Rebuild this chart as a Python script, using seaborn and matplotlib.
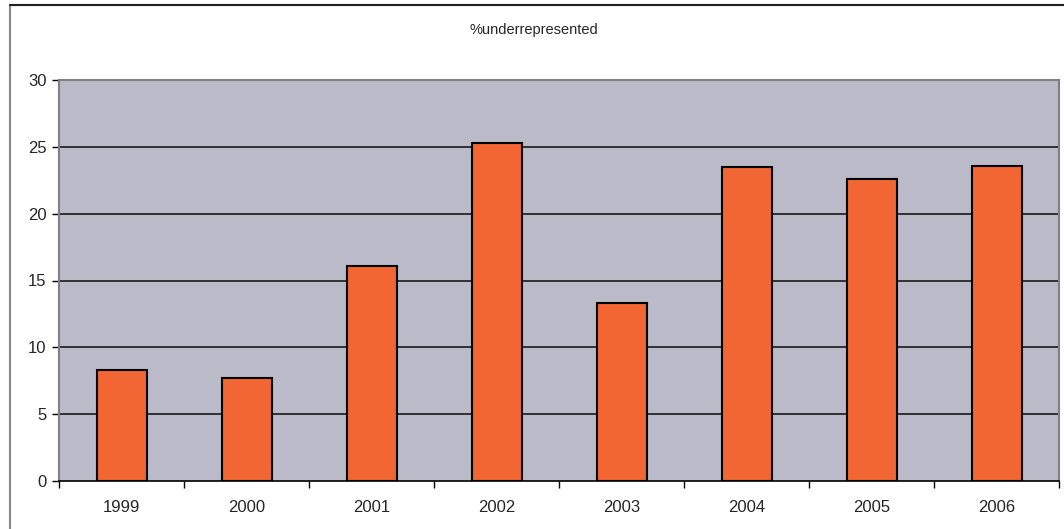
import numpy as np
import pandas as pd
import matplotlib
matplotlib.use("Agg")
import matplotlib.pyplot as plt
import seaborn as sns
from matplotlib.patches import Rectangle

# Chart data
years = ["1999", "2000", "2001", "2002", "2003", "2004", "2005", "2006"]
pct_under = [8.3, 7.7, 16.1, 25.3, 13.3, 23.5, 22.6, 23.6]
y_ticks = [0, 5, 10, 15, 20, 25, 30]

df = pd.DataFrame({"year": years, "pct": pct_under})

sns.set_style("white")
plt.rcParams['font.family'] = ['Liberation Sans', 'DejaVu Sans']

fig = plt.figure(figsize=(10.64, 5.29), dpi=100)
ax = fig.add_axes([59 / 1064, 1 - 481 / 529, 1000 / 1064, 401 / 529])

# outer chart frame (left + top edges visible, right side cropped)
fig.patches.append(Rectangle((10 / 1064, -0.01), 1.2, 1 - 5 / 529 + 0.01,
                             transform=fig.transFigure, fill=False,
                             edgecolor="#888888", linewidth=1.5, zorder=0))
fig.add_artist(plt.Line2D([10 / 1064, 1], [1 - 5 / 529, 1 - 5 / 529],
                          transform=fig.transFigure, color="#222222", lw=1.5))

ax.set_facecolor("#BBBAC9")
for y in y_ticks[1:-1]:
    ax.axhline(y, color="#1a1a1a", lw=1.2, zorder=1)

sns.barplot(data=df, x="year", y="pct", color="#F26633", width=0.4,
            edgecolor="black", linewidth=1.5, saturation=1, ax=ax, zorder=2)

ax.set_ylim(0, 30)
ax.set_xlim(-0.5, len(years) - 0.5)
ax.set_yticks(y_ticks)
ax.set_xlabel("")
ax.set_ylabel("")

ax.set_xticks(np.arange(-0.5, len(years), 1.0), minor=True)
ax.tick_params(axis="x", which="major", length=0, pad=14, labelsize=12)
ax.tick_params(axis="x", which="minor", length=5, width=1, color="black",
               direction="out", bottom=True)
ax.tick_params(axis="y", length=5, width=1, color="black", direction="out",
               left=True, labelsize=12, pad=4)

for side in ["left", "right", "top"]:
    ax.spines[side].set_color("#808080")
    ax.spines[side].set_linewidth(1.5)
ax.spines["bottom"].set_color("black")
ax.spines["bottom"].set_linewidth(1.2)

fig.text(534 / 1064, 1 - 30 / 529, "%underrepresented", ha="center",
         va="center", fontsize=10.5)

fig.savefig("out.png", dpi=100)
